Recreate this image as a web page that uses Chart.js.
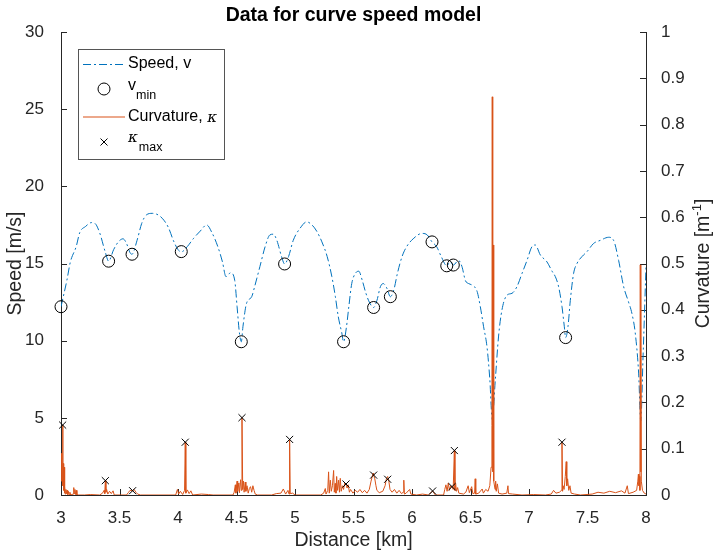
<!DOCTYPE html>
<html>
<head>
<meta charset="utf-8">
<title>Data for curve speed model</title>
<script src="https://cdn.jsdelivr.net/npm/chart.js@4.4.0/dist/chart.umd.min.js"></script>
<style>
  html, body { margin: 0; padding: 0; background: #fff; }
  canvas { display: block; }
</style>
</head>
<body>
<canvas id="myChart" width="717" height="556"></canvas>
<script>
// speed profile, v [m/s] over distance [km]
const speedDist = [
  3.00, 3.05, 3.08, 3.13, 3.16, 3.21, 3.26, 3.29, 3.33, 3.38,
  3.407, 3.45, 3.49, 3.53, 3.56, 3.59, 3.607, 3.65, 3.69, 3.73,
  3.78, 3.83, 3.88, 3.92, 3.96, 4.00, 4.028, 4.08, 4.13, 4.19,
  4.245, 4.29, 4.34, 4.38, 4.41, 4.45, 4.485, 4.505, 4.525, 4.541,
  4.555, 4.585, 4.63, 4.655, 4.70, 4.745, 4.785, 4.815, 4.845, 4.885,
  4.911, 4.945, 4.985, 5.045, 5.10, 5.145, 5.185, 5.23, 5.275, 5.315,
  5.345, 5.37, 5.40, 5.415, 5.44, 5.46, 5.485, 5.515, 5.545, 5.575,
  5.605, 5.635, 5.672, 5.70, 5.73, 5.755, 5.785, 5.815, 5.845, 5.875,
  5.915, 5.955, 6.01, 6.085, 6.13, 6.171, 6.21, 6.25, 6.297, 6.325,
  6.353, 6.398, 6.427, 6.456, 6.484, 6.513, 6.556, 6.584, 6.612, 6.641,
  6.665, 6.686, 6.712, 6.74, 6.769, 6.812, 6.855, 6.897, 6.94, 6.983,
  7.026, 7.054, 7.097, 7.154, 7.197, 7.225, 7.253, 7.282, 7.302, 7.313,
  7.333, 7.353, 7.381, 7.41, 7.453, 7.496, 7.552, 7.61, 7.681, 7.723,
  7.766, 7.809, 7.851, 7.88, 7.908, 7.937, 7.955, 7.975, 8.0
];
const speedVal = [
  12.2, 13.9, 15.1, 16.1, 17.0, 17.4, 17.65, 17.6, 17.0, 15.7,
  15.15, 15.9, 16.4, 16.6, 16.3, 15.7, 15.6, 16.5, 17.6, 18.15,
  18.25, 18.15, 17.8, 17.3, 16.5, 15.9, 15.75, 16.1, 16.6, 17.1,
  17.5, 17.0, 16.1, 15.1, 14.15, 14.4, 13.9, 12.2, 10.5, 9.93,
  10.9, 12.4, 12.85, 13.5, 14.8, 16.1, 16.85, 16.9, 16.5, 15.45,
  14.97, 15.45, 16.5, 17.3, 17.7, 17.5, 17.1, 16.4, 15.45, 14.15,
  12.85, 11.55, 10.5, 9.93, 10.9, 12.2, 13.7, 14.35, 14.5, 13.9,
  13.1, 12.5, 12.15, 12.6, 13.5, 13.7, 13.4, 12.85, 13.3, 14.35,
  15.45, 16.1, 16.6, 16.95, 16.85, 16.4, 16.1, 15.45, 14.85, 15.1,
  14.9, 15.2, 14.8, 13.9, 13.7, 13.6, 13.2, 12.2, 10.9, 9.6,
  7.5, 4.9, 7.45, 10.3, 12.0, 12.95, 13.07, 13.5, 14.35, 15.2,
  16.1, 16.2, 15.55, 15.1, 14.5, 14.15, 13.5, 12.2, 10.9, 10.2,
  10.9, 12.6, 14.35, 15.0, 15.45, 15.77, 16.3, 16.5, 16.7, 16.5,
  15.2, 13.5, 12.5, 11.75, 10.5, 7.9, 4.8, 9.0, 14.8
];

// local speed minima
const vminDist = [3.0, 3.407, 3.607, 4.028, 4.541, 4.911, 5.415, 5.672, 5.815, 6.171, 6.297, 6.353, 7.313];
const vminVal = [12.2, 15.15, 15.6, 15.77, 9.93, 14.97, 9.93, 12.15, 12.85, 16.4, 14.85, 14.9, 10.2];

// curvature maxima [1/m]
const kmaxDist = [3.014, 3.379, 3.612, 4.062, 4.547, 4.954, 5.436, 5.672, 5.792, 6.176, 6.342, 6.362, 7.282];
const kmaxVal = [0.151, 0.031, 0.0093, 0.114, 0.167, 0.12, 0.0237, 0.043, 0.034, 0.0086, 0.018, 0.096, 0.114];

// curvature [distance km, kappa 1/m]
const curvature = [
  [3.000, 0.030], [3.005, 0.090], [3.010, 0.040], [3.014, 0.151], [3.017, 0.020], [3.020, 0.068],
  [3.023, 0.010], [3.026, 0.060], [3.029, 0.004], [3.033, 0.018], [3.037, 0.002], [3.042, 0.012],
  [3.047, 0.003], [3.052, 0.010], [3.057, 0.001], [3.063, 0.008], [3.069, 0.000], [3.076, 0.006],
  [3.082, 0.000], [3.104, 0.002], [3.109, 0.016], [3.113, 0.003], [3.119, 0.012], [3.124, 0.001],
  [3.131, 0.010], [3.136, 0.000], [3.20, 0.000], [3.25, 0.001], [3.33, 0.000], [3.355, 0.004],
  [3.368, 0.010], [3.374, 0.003], [3.379, 0.031], [3.384, 0.006], [3.39, 0.012], [3.40, 0.002],
  [3.415, 0.008], [3.43, 0.003], [3.445, 0.009], [3.455, 0.000], [3.56, 0.000], [3.575, 0.005],
  [3.59, 0.010], [3.612, 0.0093], [3.625, 0.012], [3.64, 0.006], [3.655, 0.002], [3.68, 0.000],
  [3.98, 0.000], [3.995, 0.012], [4.005, 0.002], [4.02, 0.008], [4.04, 0.001], [4.056, 0.010],
  [4.062, 0.114], [4.067, 0.004], [4.08, 0.011], [4.095, 0.003], [4.11, 0.009], [4.125, 0.000],
  [4.20, 0.002], [4.26, 0.001], [4.30, 0.000], [4.47, 0.000], [4.48, 0.006], [4.49, 0.022],
  [4.495, 0.004], [4.505, 0.030], [4.51, 0.008], [4.52, 0.026], [4.525, 0.005], [4.535, 0.033],
  [4.541, 0.010], [4.547, 0.167], [4.553, 0.012], [4.56, 0.030], [4.565, 0.006], [4.575, 0.028],
  [4.58, 0.008], [4.59, 0.020], [4.60, 0.004], [4.61, 0.014], [4.62, 0.018], [4.63, 0.006],
  [4.64, 0.020], [4.65, 0.010], [4.66, 0.002], [4.68, 0.000], [4.80, 0.000], [4.84, 0.003],
  [4.88, 0.004], [4.90, 0.013], [4.92, 0.002], [4.94, 0.010], [4.949, 0.002], [4.954, 0.120],
  [4.959, 0.003], [4.98, 0.004], [5.00, 0.000], [5.22, 0.000], [5.245, 0.004], [5.259, 0.014],
  [5.265, 0.002], [5.28, 0.010], [5.287, 0.050], [5.293, 0.004], [5.302, 0.032], [5.31, 0.008],
  [5.32, 0.020], [5.330, 0.053], [5.336, 0.006], [5.344, 0.025], [5.350, 0.004], [5.356, 0.040],
  [5.364, 0.010], [5.373, 0.032], [5.38, 0.006], [5.387, 0.036], [5.395, 0.008], [5.405, 0.020],
  [5.415, 0.012], [5.425, 0.026], [5.436, 0.0237], [5.445, 0.015], [5.455, 0.022], [5.465, 0.006],
  [5.475, 0.012], [5.495, 0.004], [5.515, 0.010], [5.535, 0.006], [5.555, 0.012], [5.575, 0.005],
  [5.595, 0.010], [5.615, 0.004], [5.635, 0.012], [5.65, 0.030], [5.66, 0.040], [5.668, 0.047],
  [5.672, 0.043], [5.682, 0.035], [5.692, 0.020], [5.70, 0.010], [5.72, 0.005], [5.75, 0.008],
  [5.77, 0.020], [5.782, 0.036], [5.792, 0.040], [5.802, 0.030], [5.812, 0.012], [5.83, 0.006],
  [5.85, 0.012], [5.87, 0.004], [5.89, 0.010], [5.91, 0.003], [5.925, 0.006], [5.93, 0.032],
  [5.935, 0.002], [5.95, 0.004], [5.98, 0.012], [5.99, 0.002], [6.04, 0.000], [6.09, 0.002],
  [6.14, 0.000], [6.176, 0.0086], [6.20, 0.000], [6.27, 0.000], [6.28, 0.012], [6.29, 0.022],
  [6.30, 0.008], [6.31, 0.026], [6.32, 0.010], [6.33, 0.020], [6.342, 0.018], [6.352, 0.012],
  [6.362, 0.096], [6.367, 0.010], [6.373, 0.025], [6.38, 0.008], [6.39, 0.016], [6.40, 0.004],
  [6.44, 0.002], [6.46, 0.006], [6.48, 0.020], [6.49, 0.005], [6.51, 0.018], [6.52, 0.003],
  [6.535, 0.004], [6.54, 0.035], [6.545, 0.002], [6.57, 0.004], [6.60, 0.013], [6.61, 0.004],
  [6.63, 0.012], [6.65, 0.008], [6.665, 0.020], [6.676, 0.060], [6.683, 0.15], [6.686, 0.86],
  [6.688, 0.05], [6.690, 0.54], [6.692, 0.10], [6.694, 0.54], [6.697, 0.06], [6.70, 0.030],
  [6.71, 0.012], [6.715, 0.030], [6.72, 0.008], [6.73, 0.024], [6.74, 0.004], [6.77, 0.002],
  [6.81, 0.004], [6.82, 0.020], [6.825, 0.003], [6.86, 0.002], [6.94, 0.000], [7.04, 0.001],
  [7.14, 0.000], [7.19, 0.002], [7.21, 0.010], [7.23, 0.004], [7.26, 0.006], [7.277, 0.010],
  [7.282, 0.114], [7.287, 0.008], [7.292, 0.020], [7.30, 0.012], [7.31, 0.040], [7.318, 0.072],
  [7.323, 0.020], [7.33, 0.035], [7.34, 0.010], [7.35, 0.020], [7.36, 0.004], [7.39, 0.002],
  [7.44, 0.000], [7.54, 0.002], [7.59, 0.006], [7.64, 0.004], [7.69, 0.008], [7.74, 0.005],
  [7.79, 0.009], [7.82, 0.004], [7.84, 0.020], [7.85, 0.003], [7.89, 0.006], [7.92, 0.010],
  [7.93, 0.030], [7.935, 0.045], [7.94, 0.020], [7.945, 0.040], [7.948, 0.010], [7.951, 0.497],
  [7.954, 0.05], [7.957, 0.497], [7.960, 0.03], [7.97, 0.010], [7.985, 0.004], [8.00, 0.002]
];

const chartTitle = "Data for curve speed model";
const speedColor = "#0072BD";
const curvColor = "#D95319";
const axisColor = "#262626";
const fontFam = "'Liberation Sans', Arial, Helvetica, sans-serif";

Chart.defaults.font.family = fontFam;
Chart.defaults.color = axisColor;

function fmt(v) {
  return String(Math.round(v * 10) / 10);
}

// MATLAB style ticks pointing into the axes
const innerTicks = {
  id: "innerTicks",
  beforeDatasetsDraw(chart) {
    const { ctx, chartArea: a, scales } = chart;
    ctx.save();
    ctx.strokeStyle = axisColor;
    ctx.lineWidth = 1;
    ctx.beginPath();
    scales.x.ticks.forEach((t) => {
      const p = Math.round(scales.x.getPixelForValue(t.value)) + 0.5;
      ctx.moveTo(p, a.bottom);
      ctx.lineTo(p, a.bottom - 6);
    });
    scales.y.ticks.forEach((t) => {
      const p = Math.round(scales.y.getPixelForValue(t.value)) + 0.5;
      ctx.moveTo(a.left, p);
      ctx.lineTo(a.left + 6, p);
    });
    scales.y1.ticks.forEach((t) => {
      const p = Math.round(scales.y1.getPixelForValue(t.value)) + 0.5;
      ctx.moveTo(a.right, p);
      ctx.lineTo(a.right - 6, p);
    });
    ctx.stroke();
    ctx.restore();
  },
};

// title centred over the axes, right axis title read bottom to top
const titles = {
  id: "titles",
  afterDraw(chart) {
    const ctx = chart.ctx;
    const a = chart.chartArea;
    ctx.save();
    ctx.fillStyle = "#000";
    ctx.textAlign = "center";
    ctx.textBaseline = "middle";
    ctx.font = "bold 19.5px " + fontFam;
    ctx.fillText(chartTitle, (a.left + a.right) / 2, 16);
    ctx.restore();

    const big = "19.5px " + fontFam;
    const small = "13px " + fontFam;
    ctx.save();
    ctx.translate(704, (a.top + a.bottom) / 2);
    ctx.rotate(-Math.PI / 2);
    ctx.fillStyle = axisColor;
    ctx.textBaseline = "middle";
    ctx.font = big;
    const w1 = ctx.measureText("Curvature [m").width;
    const w3 = ctx.measureText("]").width;
    ctx.font = small;
    const w2 = ctx.measureText("-1").width;
    let x = -(w1 + w2 + w3) / 2;
    ctx.font = big;
    ctx.fillText("Curvature [m", x, 0);
    x += w1;
    ctx.font = small;
    ctx.fillText("-1", x, -7);
    x += w2;
    ctx.font = big;
    ctx.fillText("]", x, 0);
    ctx.restore();
  },
};

// legend box inside the axes, top left
const legendBox = {
  id: "legendBox",
  afterDatasetsDraw(chart) {
    const ctx = chart.ctx;
    const font = "16px " + fontFam;
    const sub = "12.5px " + fontFam;
    const greek = "italic 15px 'DejaVu Serif', serif";
    ctx.save();
    ctx.fillStyle = "#fff";
    ctx.fillRect(78.5, 49.5, 146, 110);
    ctx.strokeStyle = "#555";
    ctx.lineWidth = 1;
    ctx.strokeRect(78.5, 49.5, 146, 110);

    ctx.textBaseline = "middle";
    ctx.fillStyle = "#000";

    // Speed, v
    ctx.strokeStyle = speedColor;
    ctx.setLineDash([8, 3, 2, 3]);
    ctx.beginPath();
    ctx.moveTo(83, 64.5);
    ctx.lineTo(125, 64.5);
    ctx.stroke();
    ctx.setLineDash([]);
    ctx.font = font;
    ctx.fillText("Speed, v", 128, 64);

    // v_min
    ctx.strokeStyle = "#000";
    ctx.beginPath();
    ctx.arc(104, 89, 6, 0, Math.PI * 2);
    ctx.stroke();
    ctx.font = font;
    ctx.fillText("v", 128, 86);
    const vw = ctx.measureText("v").width;
    ctx.font = sub;
    ctx.fillText("min", 128 + vw, 96);

    // Curvature, kappa
    ctx.strokeStyle = curvColor;
    ctx.lineWidth = 1.2;
    ctx.beginPath();
    ctx.moveTo(83, 117);
    ctx.lineTo(125, 117);
    ctx.stroke();
    ctx.lineWidth = 1;
    ctx.font = font;
    ctx.fillText("Curvature, ", 128, 117);
    const cw = ctx.measureText("Curvature, ").width;
    ctx.font = greek;
    ctx.fillText("\u03BA", 128 + cw, 118);

    // kappa_max
    ctx.strokeStyle = "#000";
    ctx.beginPath();
    ctx.moveTo(100.5, 138.5);
    ctx.lineTo(107.5, 145.5);
    ctx.moveTo(107.5, 138.5);
    ctx.lineTo(100.5, 145.5);
    ctx.stroke();
    ctx.font = greek;
    ctx.fillText("\u03BA", 128, 138);
    const kw = ctx.measureText("\u03BA").width;
    ctx.font = sub;
    ctx.fillText("max", 129 + kw, 148);
    ctx.restore();
  },
};

const config = {
  type: "scatter",
  data: {
    datasets: [
      {
        label: "\u03BAmax",
        data: kmaxDist.map((d, i) => ({ x: d, y: kmaxVal[i] })),
        yAxisID: "y1",
        pointStyle: "crossRot",
        pointRadius: 5,
        borderColor: "#000",
        borderWidth: 1,
        showLine: false,
        clip: false,
        order: 0,
      },
      {
        label: "Curvature",
        data: curvature.map((p) => ({ x: p[0], y: p[1] })),
        yAxisID: "y1",
        showLine: true,
        borderColor: curvColor,
        borderWidth: 1,
        pointRadius: 0,
        tension: 0,
        order: 1,
      },
      {
        label: "vmin",
        data: vminDist.map((d, i) => ({ x: d, y: vminVal[i] })),
        yAxisID: "y",
        pointStyle: "circle",
        pointRadius: 6,
        borderColor: "#000",
        backgroundColor: "rgba(0,0,0,0)",
        borderWidth: 1,
        showLine: false,
        clip: false,
        order: 2,
      },
      {
        label: "Speed",
        data: speedDist.map((d, i) => ({ x: d, y: speedVal[i] })),
        yAxisID: "y",
        showLine: true,
        borderColor: speedColor,
        borderWidth: 1,
        borderDash: [8, 3, 2, 3],
        pointRadius: 0,
        cubicInterpolationMode: "monotone",
        order: 3,
      },
    ],
  },
  options: {
    responsive: false,
    animation: false,
    devicePixelRatio: 1,
    layout: { padding: { top: 32, left: 0, right: 0, bottom: 0 } },
    plugins: {
      legend: { display: false },
      tooltip: { enabled: false },
      title: { display: false },
    },
    scales: {
      x: {
        type: "linear",
        min: 3,
        max: 8,
        afterFit: (s) => { s.height = 61; },
        ticks: { stepSize: 0.5, autoSkip: false, maxRotation: 0, padding: 5, font: { size: 17 }, callback: fmt },
        grid: { display: false },
        border: { display: true, color: axisColor, width: 1 },
        title: { display: true, text: "Distance [km]", font: { size: 19.5 }, padding: { top: 0, bottom: 3.5 } },
      },
      y: {
        position: "left",
        min: 0,
        max: 30,
        afterFit: (s) => { s.width = 61; },
        ticks: { stepSize: 5, padding: 9, font: { size: 17 }, callback: fmt },
        grid: { display: false },
        border: { display: true, color: axisColor, width: 1 },
        title: { display: true, text: "Speed [m/s]", font: { size: 19.5 }, padding: { top: 4.3, bottom: 0 } },
      },
      y1: {
        position: "right",
        min: 0,
        max: 1,
        afterFit: (s) => { s.width = 71; },
        ticks: { stepSize: 0.1, padding: 7, font: { size: 17 }, callback: fmt },
        grid: { display: false },
        border: { display: true, color: axisColor, width: 1 },
        title: { display: false },
      },
    },
  },
  plugins: [innerTicks, legendBox, titles],
};

const myChart = new Chart(document.getElementById("myChart"), config);
</script>
</body>
</html>
